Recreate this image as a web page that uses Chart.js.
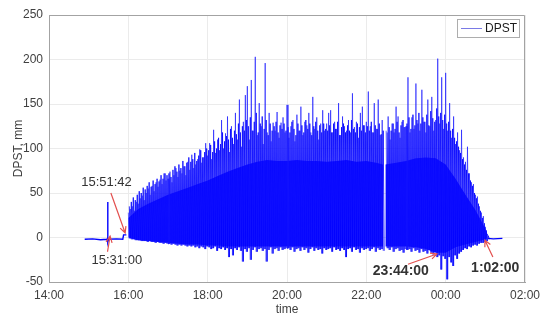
<!DOCTYPE html>
<html>
<head>
<meta charset="utf-8">
<script src="https://cdn.jsdelivr.net/npm/chart.js@4.4.0/dist/chart.umd.min.js"></script>
<style>
  html, body { margin: 0; padding: 0; background: #fff; }
  #wrap { position: relative; width: 550px; height: 323px; }
</style>
</head>
<body>
<div id="wrap"><canvas id="dpstChart" width="550" height="323"></canvas></div>
<script>
// Time is in hours from midnight of the first day (24 = 00:00 next day)
const xTicks = [14, 16, 18, 20, 22, 24, 26];
const yTicks = [-50, 0, 50, 100, 150, 200, 250];

// Main record: one peak and one trough read every 3 minutes from 16:00
const mainStart = 16;
const mainStepMin = 3;
const mainPeaks = [
  28, 32, 35, 30, 40, 38, 44, 47, 42, 50, 55, 48, 58, 52, 62, 57, 65, 60, 72, 64,
  66, 74, 62, 70, 78, 68, 75, 72, 80, 70, 85, 76, 93, 78, 82, 88, 99, 84, 90, 106,
  92, 106, 88, 121, 95, 110, 98, 132, 100, 117, 136, 96, 125, 105, 140, 110, 155, 102, 130, 160,
  170, 110, 177, 120, 203, 115, 151, 125, 105, 196, 118, 140, 108, 129, 120, 141, 112, 129, 135, 118,
  149, 112, 125, 132, 108, 138, 120, 147, 115, 130, 126, 140, 118, 158, 122, 135, 110, 128, 143, 120,
  128, 140, 143, 118, 130, 122, 151, 115, 136, 125, 120, 132, 118, 162, 124, 130, 112, 140, 147, 126,
  130, 164, 125, 118, 151, 122, 155, 115, 132, null, 120, 136, 110, 128, 118, 147, 136, 112, 130, 124,
  125, 180, 118, 135, 122, 173, 128, 120, 166, 130, 118, 155, 125, 158, 120, 132, 201, 128, 180, 122,
  185, 120, 151, 112, 136, 105, 118, 98, 121, 90, 85, 102, 72, 62, 60, 48, 46, 35, 28, 24,
  12, 4
];
// Smaller peaks between the main ones, read at the half step
const midPeaks = [
  35, 40, 45, 42, 48, 52, 50, 56, 54, 58, 62, 57, 64, 60, 66, 63, 70, 66, 72, 70,
  72, 68, 76, 80, 74, 82, 78, 86, 80, 84, 90, 85, 88, 95, 86, 92, 98, 90, 96, 100,
  98, 104, 96, 108, 100, 112, 105, 118, 108, 114, 110, 122, 112, 120, 116, 128, 118, 125, 120, 132,
  125, 135, 120, 130, 140, 118, 128, 136, 122, 132, 115, 128, 120, 125, 130, 118, 126, 122, 128, 120,
  124, 118, 130, 122, 115, 128, 120, 126, 118, 132, 122, 128, 115, 125, 130, 120, 126, 118, 128, 122,
  120, 126, 118, 128, 122, 130, 115, 124, 128, 118, 126, 120, 132, 122, 118, 128, 124, 120, 126, 118,
  125, 120, 130, 118, 126, 122, 128, 116, 120, null, 118, 124, 120, 128, 122, 130, 118, 126, 132, 124,
  128, 135, 122, 138, 126, 132, 140, 128, 135, 130, 138, 126, 142, 134, 130, 145, 136, 140, 132, 138,
  128, 130, 120, 122, 112, 108, 102, 95, 88, 82, 76, 72, 64, 58, 50, 44, 38, 30, 22, 16,
  8, 2
];
const mainTroughs = [
  -1, -2, -2, -3, -3, -3, -4, -4, -4, -5, -4, -5, -5, -6, -5, -6, -6, -7, -6, -7,
  -7, -8, -7, -8, -9, -8, -9, -8, -9, -10, -9, -10, -9, -11, -10, -12, -10, -11, -13, -10,
  -11, -13, -12, -10, -15, -12, -13, -11, -14, -12, -22, -13, -20, -12, -14, -11, -15, -27, -13, -16,
  -12, -25, -14, -11, -16, -13, -12, -15, -13, -27, -14, -11, -18, -13, -12, -15, -11, -14, -13, -12,
  -12, -14, -11, -16, -13, -12, -15, -11, -14, -12, -17, -13, -11, -15, -12, -14, -13, -18, -12, -14,
  -13, -12, -16, -11, -14, -13, -15, -12, -14, -22, -13, -12, -16, -11, -14, -13, -17, -12, -14, -13,
  -12, -15, -13, -11, -16, -12, -14, -13, -15, null, -12, -14, -11, -16, -13, -12, -15, -14, -17, -13,
  -14, -13, -16, -12, -15, -14, -17, -13, -16, -15, -18, -14, -17, -19, -16, -22, -20, -36, -21, -24,
  -47, -22, -28, -32, -20, -24, -18, -16, -14, -12, -13, -10, -11, -9, -8, -9, -7, -6, -6, -5,
  -4, -2
];

// Solid band of the oscillation (upper and lower edge), read every 15 minutes
const coreTimes = [
  16, 16.25, 16.5, 16.75, 17, 17.25, 17.5, 17.75, 18, 18.25, 18.5, 18.75,
  19, 19.25, 19.5, 19.75, 20, 20.25, 20.5, 20.75, 21, 21.25, 21.5, 21.75,
  22, 22.25, 22.42, 22.45, 22.48, 22.75, 23, 23.25, 23.5, 23.75,
  24, 24.25, 24.5, 24.75, 25, 25.05
];
const coreTop = [
  22, 32, 38, 43, 48, 52, 56, 60, 64, 69, 74, 78,
  82, 85, 87, 86, 86, 87, 86, 86, 85, 86, 87, 85,
  86, 84, 82, null, 82, 84, 86, 89, 90, 89,
  82, 66, 48, 31, 10, 3
];
const coreBottom = [
  0, -3, -4, -5, -6, -7, -8, -8, -9, -9, -10, -10,
  -10, -10, -10, -10, -10, -10, -10, -10, -10, -10, -10, -10,
  -10, -10, -10, null, -10, -10, -10, -11, -13, -17,
  -17, -11, -8, -5, -2, -1
];

// Quiet stretches before and after the main record
const preTimes = [14.9, 15.1, 15.3, 15.46, 15.475, 15.48, 15.485, 15.5, 15.7, 15.86, 15.88, 15.95];
const preValues = [-2, -1.5, -2.5, -2, -1, 40, -5, -2, -1.5, -2, 3, 3];
const postTimes = [25.06, 25.2, 25.43];
const postValues = [-1, -1.5, -1];

// Build the oscillating series as peak / trough pairs
function zigzag(peaks, troughs, offsetMin) {
  const pts = [];
  peaks.forEach((peak, i) => {
    const t = mainStart + (i * mainStepMin + offsetMin) / 60;
    if (peak === null) {
      pts.push({ x: t, y: null });
      return;
    }
    pts.push({ x: t, y: peak });
    pts.push({ x: t + mainStepMin / 120, y: troughs[i] });
  });
  return pts;
}
const toPoints = (times, values) => times.map((t, i) => ({ x: t, y: values[i] }));

// Annotations (positions in data units)
const notes = [
  { text: '15:51:42', at: [15.45, 62], from: [15.56, 50], to: [15.92, 5], bold: false },
  { text: '15:31:00', at: [15.71, -26], from: [15.475, -16], to: [15.54, 1.5], bold: false },
  { text: '23:44:00', at: [22.87, -37.5], from: [23.05, -30], to: [23.78, -18.5], bold: true },
  { text: '1:02:00', at: [25.25, -34], from: [25.19, -22], to: [24.99, -3], bold: true }
];

function hourLabel(v) {
  const h = ((v % 24) + 24) % 24;
  return String(h).padStart(2, '0') + ':00';
}

const frameAndNotes = {
  id: 'frameAndNotes',
  afterDraw(chart) {
    const { ctx, chartArea: a, scales: { x, y } } = chart;
    ctx.save();

    // top and right edges of the box
    ctx.strokeStyle = '#a3a3a3';
    ctx.lineWidth = 1;
    ctx.beginPath();
    ctx.moveTo(a.left, a.top + 0.5);
    ctx.lineTo(a.right - 0.5, a.top + 0.5);
    ctx.lineTo(a.right - 0.5, a.bottom);
    ctx.stroke();

    // red arrows and labels
    notes.forEach(n => {
      const x0 = x.getPixelForValue(n.from[0]), y0 = y.getPixelForValue(n.from[1]);
      const x1 = x.getPixelForValue(n.to[0]), y1 = y.getPixelForValue(n.to[1]);
      const ang = Math.atan2(y1 - y0, x1 - x0);
      ctx.strokeStyle = '#e3504f';
      ctx.lineWidth = 1.2;
      ctx.beginPath();
      ctx.moveTo(x0, y0);
      ctx.lineTo(x1, y1);
      ctx.moveTo(x1 - 7 * Math.cos(ang - 0.45), y1 - 7 * Math.sin(ang - 0.45));
      ctx.lineTo(x1, y1);
      ctx.lineTo(x1 - 7 * Math.cos(ang + 0.45), y1 - 7 * Math.sin(ang + 0.45));
      ctx.stroke();

      ctx.fillStyle = '#333333';
      ctx.font = (n.bold ? 'bold 14px' : '13px') + ' "Liberation Sans", Arial, sans-serif';
      ctx.textAlign = 'center';
      ctx.textBaseline = 'middle';
      ctx.fillText(n.text, x.getPixelForValue(n.at[0]), y.getPixelForValue(n.at[1]));
    });

    // legend box in the top right corner
    const lx = a.right - 68, ly = a.top + 4;
    ctx.fillStyle = '#ffffff';
    ctx.fillRect(lx, ly, 62, 18);
    ctx.strokeStyle = '#adadad';
    ctx.lineWidth = 1;
    ctx.strokeRect(lx + 0.5, ly + 0.5, 62, 18);
    ctx.strokeStyle = '#7a7ae6';
    ctx.beginPath();
    ctx.moveTo(lx + 4, ly + 9.5);
    ctx.lineTo(lx + 25, ly + 9.5);
    ctx.stroke();
    ctx.fillStyle = '#1a1a1a';
    ctx.font = '12px "Liberation Sans", Arial, sans-serif';
    ctx.textAlign = 'left';
    ctx.textBaseline = 'middle';
    ctx.fillText('DPST', lx + 28, ly + 10);

    ctx.restore();
  }
};

const tickFont = { family: '"Liberation Sans", Arial, sans-serif', size: 12 };
const lineBase = { pointRadius: 0, tension: 0, spanGaps: false };

new Chart(document.getElementById('dpstChart'), {
  type: 'line',
  data: {
    datasets: [
      Object.assign({
        label: 'DPST',
        data: zigzag(mainPeaks, mainTroughs, 0),
        borderColor: 'rgba(20, 20, 255, 0.8)',
        borderWidth: 0.8
      }, lineBase),
      Object.assign({
        label: 'DPST mid',
        data: zigzag(midPeaks, mainTroughs, 1.5),
        borderColor: '#0000ff',
        borderWidth: 0.8
      }, lineBase),
      Object.assign({
        label: 'core top',
        data: toPoints(coreTimes, coreTop),
        borderWidth: 0,
        backgroundColor: '#0000ff',
        fill: '+1'
      }, lineBase),
      Object.assign({
        label: 'core bottom',
        data: toPoints(coreTimes, coreBottom),
        borderWidth: 0
      }, lineBase),
      Object.assign({
        label: 'quiet before',
        data: toPoints(preTimes, preValues),
        borderColor: '#0000ff',
        borderWidth: 1.4
      }, lineBase),
      Object.assign({
        label: 'quiet after',
        data: toPoints(postTimes, postValues),
        borderColor: '#0000ff',
        borderWidth: 1.4
      }, lineBase)
    ]
  },
  options: {
    responsive: false,
    animation: false,
    devicePixelRatio: 1,
    layout: { padding: { top: 15, right: 25, left: 0, bottom: 0 } },
    plugins: {
      legend: { display: false },
      tooltip: { enabled: false }
    },
    scales: {
      x: {
        type: 'linear',
        min: 14,
        max: 26,
        afterBuildTicks: scale => { scale.ticks = xTicks.map(v => ({ value: v })); },
        afterFit: scale => { scale.height = 41; },
        ticks: {
          callback: v => hourLabel(v),
          font: tickFont,
          color: '#404040',
          padding: 6,
          maxRotation: 0
        },
        grid: { color: '#ebebeb', drawTicks: false },
        border: { color: '#a3a3a3' },
        title: {
          display: true,
          text: 'time',
          font: tickFont,
          color: '#404040',
          padding: { top: 0, bottom: 6 }
        }
      },
      y: {
        min: -50,
        max: 250,
        afterBuildTicks: scale => { scale.ticks = yTicks.map(v => ({ value: v })); },
        afterFit: scale => { scale.width = 49; },
        ticks: {
          font: tickFont,
          color: '#404040',
          padding: 6
        },
        grid: { color: '#ebebeb', drawTicks: false },
        border: { color: '#a3a3a3' },
        title: {
          display: true,
          text: 'DPST, mm',
          font: tickFont,
          color: '#404040',
          padding: { top: 11, bottom: 0 }
        }
      }
    }
  },
  plugins: [frameAndNotes]
});
</script>
</body>
</html>
